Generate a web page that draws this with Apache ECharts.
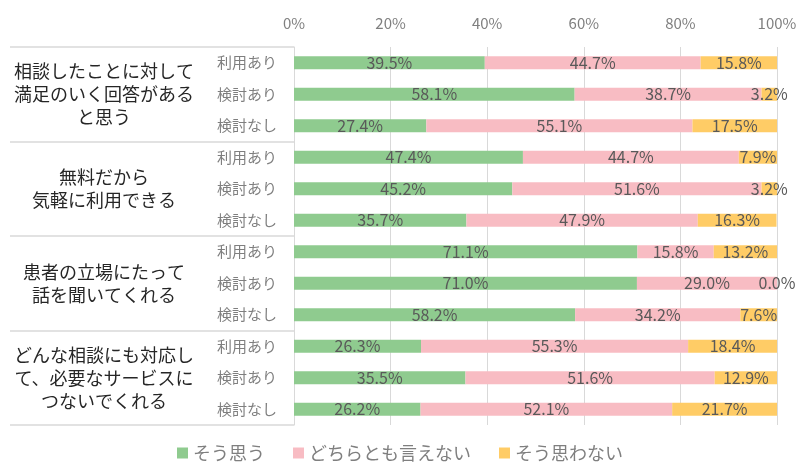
<!DOCTYPE html>
<html>
<head>
<meta charset="utf-8">
<script src="https://cdn.jsdelivr.net/npm/echarts@6/dist/echarts.min.js"></script>
<style>
  html, body { margin: 0; padding: 0; background: #fff; }
  #chart { width: 800px; height: 463px; }
</style>
</head>
<body>
<div id="chart"></div>
<script>
// Survey groups (statements) and the three respondent types under each
const groups = [
  '相談したことに対して\n満足のいく回答がある\nと思う',
  '無料だから\n気軽に利用できる',
  '患者の立場にたって\n話を聞いてくれる',
  'どんな相談にも対応し\nて、必要なサービスに\nつないでくれる'
];
const subLabels = ['利用あり', '検討あり', '検討なし'];
const rows = [];
groups.forEach(() => subLabels.forEach(s => rows.push(s)));

const seriesNames = ['そう思う', 'どちらとも言えない', 'そう思わない'];
const agree    = [39.5, 58.1, 27.4, 47.4, 45.2, 35.7, 71.1, 71.0, 58.2, 26.3, 35.5, 26.2];
const neutral  = [44.7, 38.7, 55.1, 44.7, 51.6, 47.9, 15.8, 29.0, 34.2, 55.3, 51.6, 52.1];
const disagree = [15.8, 3.2, 17.5, 7.9, 3.2, 16.3, 13.2, 0.0, 7.6, 18.4, 12.9, 21.7];
const colors = ['#8fcb8f', '#f8bcc3', '#ffcc66'];

const FONT = '"Noto Sans CJK JP", "Noto Sans", sans-serif';

const chart = echarts.init(document.getElementById('chart'));

function barSeries(name, data, color) {
  return {
    name: name,
    type: 'bar',
    stack: 'total',
    barWidth: 13,
    data: data,
    itemStyle: { color: color },
    label: {
      show: true,
      position: 'inside',
      color: '#595959',
      fontSize: 16,
      fontFamily: FONT,
      formatter: p => p.value.toFixed(1) + '%'
    },
    emphasis: { disabled: true }
  };
}

chart.setOption({
  animation: false,
  textStyle: { fontFamily: FONT },
  grid: { left: 294, right: 23, top: 47, bottom: 38, containLabel: false },
  xAxis: {
    type: 'value',
    position: 'top',
    min: 0,
    max: 100,
    interval: 20,
    axisLine: { show: false },
    axisTick: { show: false },
    axisLabel: {
      formatter: v => v + '%',
      color: '#7f7f7f',
      fontSize: 15,
      margin: 16,
      fontFamily: FONT
    },
    splitLine: { show: true, lineStyle: { color: '#d9d9d9', width: 1 } }
  },
  yAxis: [
    {
      type: 'category',
      data: rows,
      inverse: true,
      position: 'left',
      axisLine: { show: true, lineStyle: { color: '#d9d9d9', width: 1 } },
      axisTick: { show: false },
      axisLabel: {
        color: '#7f7f7f',
        fontSize: 15,
        margin: 17,
        fontFamily: FONT
      }
    },
    {
      type: 'category',
      data: groups,
      inverse: true,
      position: 'left',
      axisLine: { show: false },
      axisTick: { show: true, length: 284, lineStyle: { color: '#d9d9d9', width: 1.5 } },
      axisLabel: {
        color: '#262626',
        fontSize: 18,
        lineHeight: 23,
        margin: 190,
        align: 'center',
        fontFamily: FONT
      }
    }
  ],
  legend: {
    bottom: -4,
    left: 'center',
    itemWidth: 11,
    itemHeight: 11,
    itemGap: 28,
    icon: 'rect',
    textStyle: { color: '#7f7f7f', fontSize: 18, fontFamily: FONT },
    data: seriesNames
  },
  series: [
    barSeries(seriesNames[0], agree, colors[0]),
    barSeries(seriesNames[1], neutral, colors[1]),
    barSeries(seriesNames[2], disagree, colors[2])
  ]
});
</script>
</body>
</html>
